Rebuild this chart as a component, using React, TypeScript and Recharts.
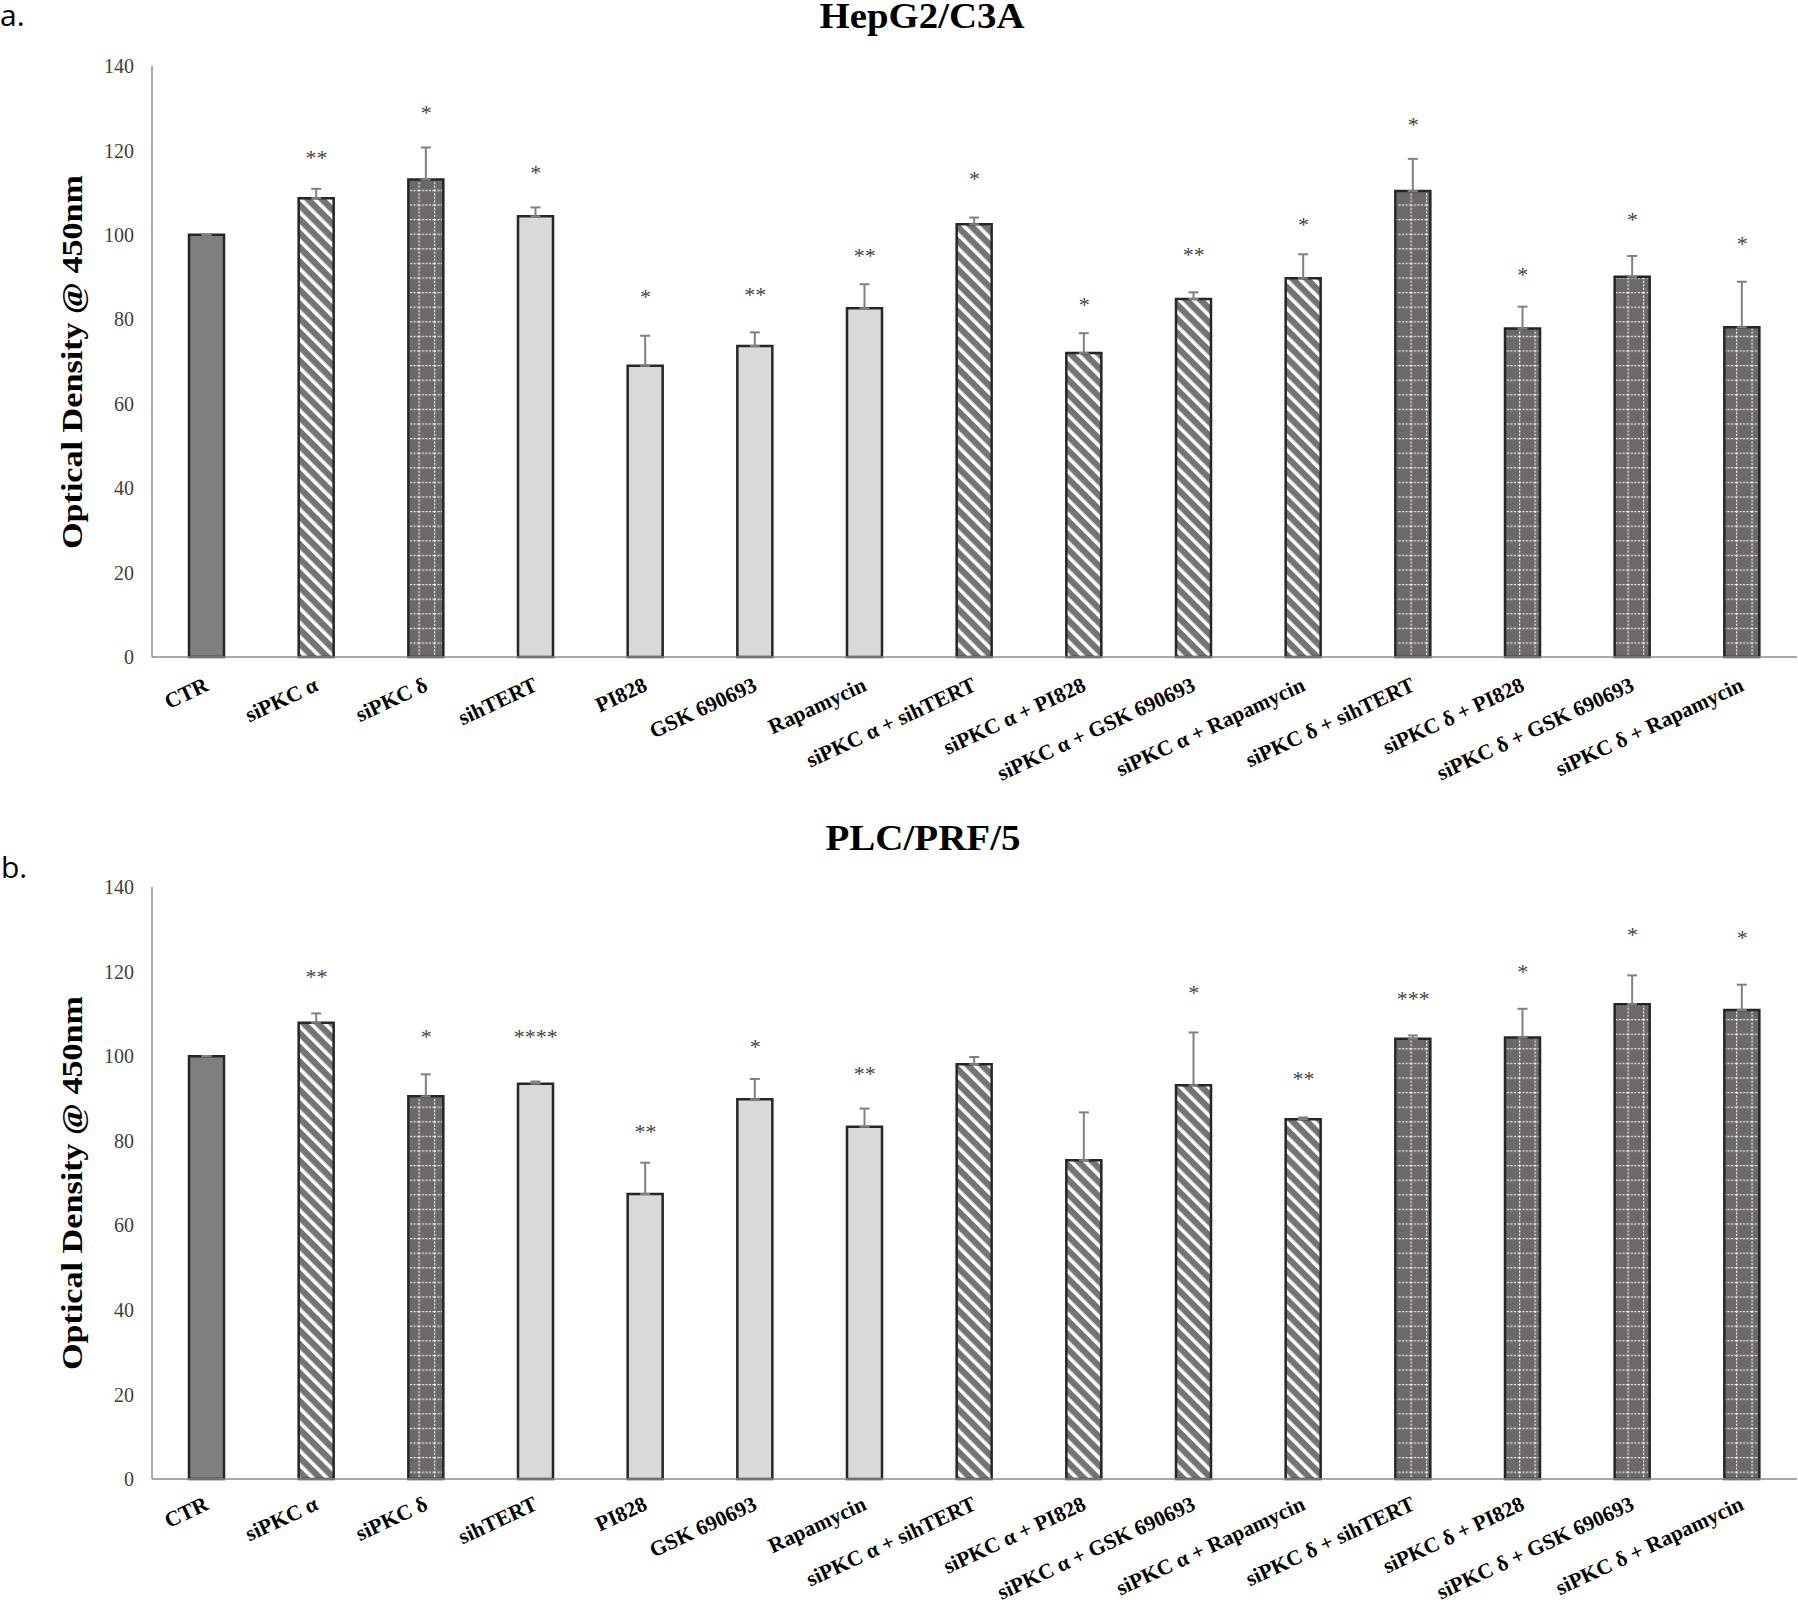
import React from "react";
import {
  ComposedChart,
  Bar,
  Line,
  XAxis,
  YAxis,
  ErrorBar,
  Cell,
  LabelList,
} from "recharts";

const categories = [
  "CTR",
  "siPKC α",
  "siPKC δ",
  "sihTERT",
  "PI828",
  "GSK 690693",
  "Rapamycin",
  "siPKC α + sihTERT",
  "siPKC α + PI828",
  "siPKC α + GSK 690693",
  "siPKC α + Rapamycin",
  "siPKC δ + sihTERT",
  "siPKC δ + PI828",
  "siPKC δ + GSK 690693",
  "siPKC δ + Rapamycin",
];

// fill style of each bar
const barKinds = [
  "solid", "stripe", "grid", "light", "light", "light", "light",
  "stripe", "stripe", "stripe", "stripe", "grid", "grid", "grid", "grid",
];

// a. HepG2/C3A
const hepValues = [100, 108.7, 113.1, 104.4, 69.0, 73.7, 82.6, 102.5, 72.0, 84.8, 89.7, 110.4, 77.8, 90.1, 78.1];
const hepErrors = [0, 2.2, 7.6, 2.1, 7.1, 3.2, 5.7, 1.6, 4.7, 1.6, 5.7, 7.6, 5.2, 4.9, 10.8];
const hepStars = ["", "**", "*", "*", "*", "**", "**", "*", "*", "**", "*", "*", "*", "*", "*"];
const hepStarPos = [0, 119.5, 130, 115.9, 86.4, 87.0, 96.2, 114.4, 84.5, 96.5, 103.6, 127.2, 91.7, 104.6, 99.0];

// b. PLC/PRF/5
const plcValues = [100, 107.9, 90.5, 93.5, 67.4, 89.8, 83.3, 98.1, 75.4, 93.1, 85.1, 104.1, 104.4, 112.3, 110.9];
const plcErrors = [0, 2.2, 5.2, 0.5, 7.4, 4.8, 4.3, 1.7, 11.3, 12.5, 0.4, 0.8, 6.8, 6.8, 6.0];
const plcStars = ["", "**", "*", "****", "**", "*", "**", "", "", "*", "**", "***", "*", "*", "*"];
const plcStarPos = [0, 119.9, 105.7, 105.6, 83.3, 103.4, 97.0, 0, 0, 116.1, 95.7, 114.7, 121.0, 129.9, 129.1];

const yTicks = [0, 20, 40, 60, 80, 100, 120, 140];

const serif = "'Liberation Serif', 'Times New Roman', serif";

const buildRows = (values: number[], errors: number[], stars: string[], starPos: number[]) =>
  categories.map((name, i) => ({
    name,
    value: values[i],
    err: [0, errors[i]],
    starText: stars[i],
    starPos: stars[i] ? starPos[i] : null,
  }));

const XTick = (props: any) => {
  const { x, y, payload, shift } = props;
  return (
    <g transform={`translate(${x + 3},${y + shift})`}>
      <text
        textAnchor="end"
        transform="rotate(-25)"
        fontFamily={serif}
        fontWeight="bold"
        fontSize={21.5}
        fill="#000"
      >
        {payload.value}
      </text>
    </g>
  );
};

const renderStar = (props: any) => {
  const { value } = props;
  if (!value) return null;
  const x = props.x ?? props.viewBox?.x;
  const y = props.y ?? props.viewBox?.y;
  return (
    <text
      x={x}
      y={y + 12}
      textAnchor="middle"
      fontFamily={serif}
      fontSize={22}
      fill="#444444"
    >
      {value}
    </text>
  );
};

interface PanelProps {
  id: string;
  rows: ReturnType<typeof buildRows>;
  height: number;
  top: number;
  xAxisHeight: number;
  marginTop: number;
  marginBottom: number;
  tickShift: number;
}

const Panel: React.FC<PanelProps> = ({ id, rows, height, top, xAxisHeight, marginTop, marginBottom, tickShift }) => {
  const fills: Record<string, string> = {
    solid: "#7f7f7f",
    stripe: `url(#${id}-stripe)`,
    grid: `url(#${id}-grid)`,
    light: "#d9d9d9",
  };
  return (
    <div style={{ position: "absolute", left: 0, top, width: 1798, height }}>
      <ComposedChart
        width={1798}
        height={height}
        data={rows}
        margin={{ top: marginTop, right: 1, bottom: marginBottom, left: 52 }}
      >
        <defs>
          <pattern id={`${id}-stripe`} patternUnits="userSpaceOnUse" width={10} height={10} patternTransform="rotate(-45)">
            <rect width={10} height={10} fill="#777373" />
            <rect width={3.6} height={10} fill="#ffffff" />
          </pattern>
          <pattern id={`${id}-grid`} patternUnits="userSpaceOnUse" width={15.5} height={14.6}>
            <rect width={15.5} height={14.6} fill="#6d6968" />
            <line x1={0} y1={0.6} x2={15.5} y2={0.6} stroke="#f2f2f2" strokeWidth={1.2} strokeDasharray="2 1.5" />
            <line x1={0.6} y1={0} x2={0.6} y2={14.6} stroke="#f2f2f2" strokeWidth={1.2} strokeDasharray="2 1.5" />
          </pattern>
        </defs>
        <XAxis
          dataKey="name"
          interval={0}
          height={xAxisHeight}
          tickLine={false}
          axisLine={{ stroke: "#8c8c8c", strokeWidth: 1.5 }}
          tick={<XTick shift={tickShift} />}
        />
        <YAxis
          width={100}
          domain={[0, 140]}
          ticks={yTicks}
          tickLine={false}
          tickMargin={12}
          axisLine={{ stroke: "#8c8c8c", strokeWidth: 1.5 }}
          tick={{ fontFamily: serif, fontSize: 20, fill: "#404040" }}
        />
        <Bar dataKey="value" barSize={35} stroke="#262626" strokeWidth={2.5} isAnimationActive={false}>
          {rows.map((_, i) => (
            <Cell key={i} fill={fills[barKinds[i]]} />
          ))}
          <ErrorBar dataKey="err" width={5} stroke="#808080" strokeWidth={2} direction="y" />
        </Bar>
        <Line dataKey="starPos" stroke="none" dot={false} activeDot={false} isAnimationActive={false}>
          <LabelList dataKey="starText" content={renderStar} />
        </Line>
      </ComposedChart>
    </div>
  );
};

export default function App() {
  const hepRows = buildRows(hepValues, hepErrors, hepStars, hepStarPos);
  const plcRows = buildRows(plcValues, plcErrors, plcStars, plcStarPos);
  return (
    <div style={{ position: "absolute", left: 0, top: 0, width: 1798, height: 1605, background: "#fff" }}>
      <Panel id="hep" rows={hepRows} top={0} height={800} xAxisHeight={130} marginTop={66} marginBottom={13} tickShift={25} />
      <Panel id="plc" rows={plcRows} top={800} height={805} xAxisHeight={126} marginTop={87} marginBottom={0} tickShift={22} />
      <svg
        width={1798}
        height={1605}
        style={{ position: "absolute", left: 0, top: 0, pointerEvents: "none" }}
      >
        <text x={0} y={26} fontFamily="'Open Sans', sans-serif" fontSize={30}>a.</text>
        <text x={1} y={878} fontFamily="'Open Sans', sans-serif" fontSize={30}>b.</text>
        <text x={922} y={28} textAnchor="middle" fontFamily={serif} fontWeight="bold" fontSize={35}
          textLength={205} lengthAdjust="spacingAndGlyphs">HepG2/C3A</text>
        <text x={923} y={850} textAnchor="middle" fontFamily={serif} fontWeight="bold" fontSize={35}
          textLength={195} lengthAdjust="spacingAndGlyphs">PLC/PRF/5</text>
        <text x={82} y={362} transform="rotate(-90, 82, 362)" textAnchor="middle" fontFamily={serif}
          fontWeight="bold" fontSize={29} textLength={374} lengthAdjust="spacingAndGlyphs">Optical Density @ 450nm</text>
        <text x={82} y={1183} transform="rotate(-90, 82, 1183)" textAnchor="middle" fontFamily={serif}
          fontWeight="bold" fontSize={29} textLength={374} lengthAdjust="spacingAndGlyphs">Optical Density @ 450nm</text>
      </svg>
    </div>
  );
}
